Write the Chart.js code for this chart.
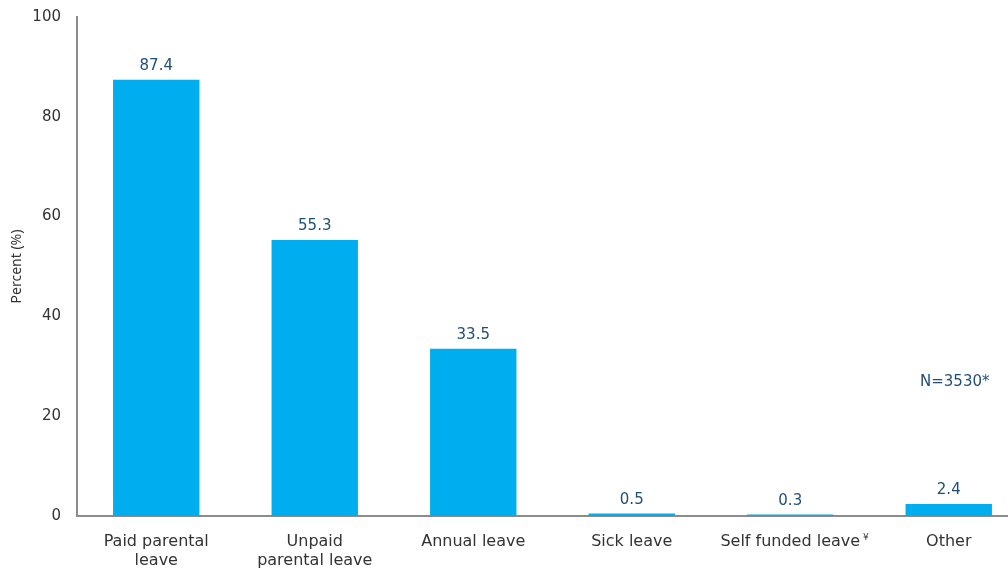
<!DOCTYPE html>
<html>
<head>
<meta charset="utf-8">
<script src="https://cdn.jsdelivr.net/npm/chart.js@4"></script>
<style>
  html, body { margin: 0; padding: 0; overflow: hidden; background: #fff; }
  #wrap { width: 1028px; height: 572px; }
</style>
</head>
<body>
<div id="wrap"><canvas id="leaveChart"></canvas></div>
<script>
// Données
const categories = [['Paid parental', 'leave'], ['Unpaid', 'parental leave'], 'Annual leave', 'Sick leave', 'Self funded leave', 'Other'];
const values = [87.4, 55.3, 33.5, 0.5, 0.3, 2.4];
const yTicks = [0, 20, 40, 60, 80, 100];
const noteText = 'N=3530*';

const barBlue = '#00adee';
const labelBlue = '#1f4e79';
const axisGrey = '#8c8c8c';
const textDark = '#333333';
const mainFont = 'DejaVu Sans, Verdana, sans-serif';

// Valeurs au-dessus des barres + note N + petit symbole ¥
const extraText = {
    id: 'extraText',
    afterDatasetsDraw(chart) {
        const ctx = chart.ctx;
        const meta = chart.getDatasetMeta(0);
        ctx.save();
        ctx.font = '15px ' + mainFont;
        ctx.fillStyle = labelBlue;
        ctx.textAlign = 'center';
        ctx.textBaseline = 'bottom';
        meta.data.forEach(function (bar, i) {
            ctx.fillText(values[i].toFixed(1), bar.x, bar.y - 6);
        });

        // note N à côté de la dernière catégorie
        const x = chart.scales.x.getPixelForValue(5);
        const y = chart.scales.y.getPixelForValue(26.8);
        ctx.textBaseline = 'middle';
        ctx.fillText(noteText, x + 6, y);

        // exposant ¥ après "Self funded leave"
        ctx.font = '16px ' + mainFont;
        const w = ctx.measureText(categories[4]).width;
        const sx = chart.scales.x.getPixelForValue(4) + w / 2 + 3;
        ctx.font = '9px ' + mainFont;
        ctx.fillStyle = textDark;
        ctx.textAlign = 'left';
        ctx.fillText('¥', sx, chart.scales.x.top + 22);
        ctx.restore();
    }
};

const ctx = document.getElementById('leaveChart').getContext('2d');
new Chart(ctx, {
    type: 'bar',
    data: {
        labels: categories,
        datasets: [{
            data: values,
            backgroundColor: barBlue,
            borderWidth: 0,
            categoryPercentage: 1,
            barPercentage: 0.545
        }]
    },
    options: {
        responsive: true,
        maintainAspectRatio: false,
        animation: false,
        layout: { padding: { top: 17, right: 0, bottom: 0, left: 0 } },
        plugins: {
            legend: { display: false },
            tooltip: { enabled: false }
        },
        scales: {
            y: {
                min: 0,
                max: 100,
                afterBuildTicks(scale) {
                    scale.ticks = yTicks.map(v => ({ value: v }));
                },
                afterFit(scale) {
                    scale.width = 77;
                    scale.paddingTop = 0;
                    scale.paddingBottom = 0;
                },
                grid: { display: false, drawTicks: false },
                border: { display: true, color: axisGrey, width: 2 },
                ticks: {
                    padding: 16,
                    color: textDark,
                    font: { family: mainFont, size: 15 }
                },
                title: {
                    display: true,
                    text: 'Percent (%)',
                    color: textDark,
                    font: { family: 'Noto Sans, sans-serif', size: 14 },
                    padding: { top: 9, bottom: 0 }
                }
            },
            x: {
                afterFit(scale) {
                    scale.height = 56;
                    scale.paddingLeft = 0;
                    scale.paddingRight = 0;
                },
                grid: { display: false, drawTicks: false },
                border: { display: true, color: axisGrey, width: 2 },
                ticks: {
                    padding: 17,
                    maxRotation: 0,
                    autoSkip: false,
                    color: textDark,
                    font: { family: mainFont, size: 16, lineHeight: 1.15 }
                }
            }
        }
    },
    plugins: [extraText]
});
</script>
</body>
</html>
